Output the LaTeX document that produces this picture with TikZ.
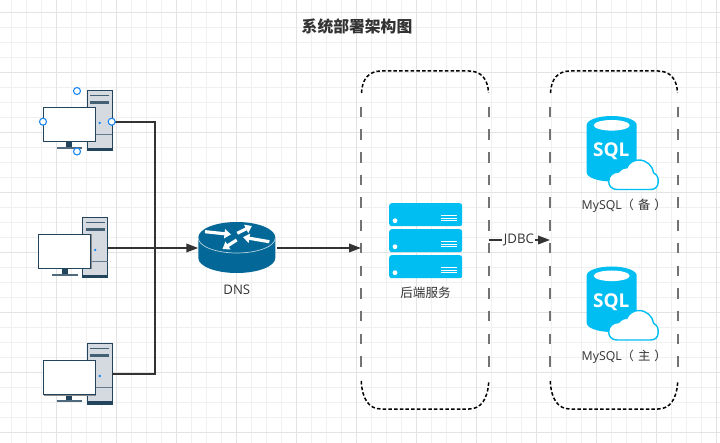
\documentclass[tikz,border=0pt]{standalone}
\usepackage{fontspec}
\setmainfont{Open Sans}
\newfontfamily\cjk{Noto Sans CJK SC}
\usetikzlibrary{arrows.meta,calc}
\definecolor{gridminor}{HTML}{F0F0F0}
\definecolor{gridmajor}{HTML}{E3E3E3}
\definecolor{ink}{HTML}{333333}
\definecolor{azure}{HTML}{00BEF2}
\definecolor{navy}{HTML}{23445D}
\definecolor{steel}{HTML}{D5DAE0}
\definecolor{routerblue}{HTML}{036897}
\definecolor{handle}{HTML}{1A86F0}
\tikzset{
  x=1pt,y=-1pt,
  conn/.style={draw=ink,line width=1.9pt,line join=miter},
  arrowed/.style={conn,-{Triangle[length=12pt,width=8.5pt]}},
  lbl/.style={text=ink,font=\fontsize{12.3}{14}\selectfont,inner sep=0pt},
  wide/.style={text=ink,font=\fontsize{13.2}{15}\selectfont,inner sep=0pt},
  box/.style={inner sep=0pt,outer sep=0pt,minimum width=#1},
  handlept/.style={circle,draw=handle,fill=white,line width=1.1pt,minimum size=7pt,inner sep=0pt},
  sideline/.style={draw=black!55,line width=1.4pt,dash pattern=on 10.5pt off 12.2pt,dash phase=14pt},
  capline/.style={draw=black,line width=1.5pt,dash pattern=on 3.5pt off 2.2pt},
}
\newcommand{\pcicon}[4]{%
  \node[box=69.5pt,minimum height=60pt,anchor=west] (#1) at (#2-44.5,#4) {};
  \begin{scope}[shift={(#2,#3)}]
    \fill[steel] (0,0) rectangle (25,60);
    \fill[navy] (0,57.3) rectangle (25,60);
    \draw[navy,line width=1pt] (0,0) rectangle (25,60);
    \fill[navy!85] (3,4) rectangle (22,5.5);
    \fill[navy!85] (3,10.5) rectangle (22,13.3);
    \draw[navy!70,line width=.8pt] (0,43.3) -- (25,43.3);
    \fill[handle] (12.7,32) circle (1.3);
    \fill[navy] (-21,50) rectangle (-15,56);
    \draw[navy!80,line width=1.5pt] (-30.5,57) -- (-5,57);
    \draw[black!45,line width=1.6pt] (-43.5,50.7) -- (8.6,50.7) -- (8.6,16.4);
    \draw[navy,fill=white,line width=.9pt] (-44,16) rectangle (8,50);
  \end{scope}}
\newcommand{\sqlicon}[3]{%
  \begin{scope}[shift={(#2,#3)}]
    \fill[azure] (0,9) arc[x radius=25,y radius=9,start angle=180,end angle=360]
       -- (50,56.5) arc[x radius=25,y radius=9,start angle=0,end angle=180] -- cycle;
    \fill[white] (25,9.3) ellipse[x radius=18,y radius=5.3];
    \node[text=white,inner sep=0pt,font=\fontsize{19}{20}\bfseries\selectfont] (#1) at (24.5,35.5) {SQL};
    \draw[azure,fill=white,line width=1.4pt,line join=round]
      (31,73.5) .. controls (24,73.5) and (22,69) .. (22,65.5)
      .. controls (22,60) and (26,56) .. (32,56)
      .. controls (34,53) and (38,51.5) .. (40,52)
      .. controls (42,47) and (47,44) .. (52,44)
      .. controls (60,44) and (66,50) .. (67,57)
      .. controls (71,59) and (71.5,62) .. (71.5,66)
      .. controls (71.5,71) and (68,73.5) .. (64,73.5) -- cycle;
  \end{scope}}
\begin{document}
\begin{tikzpicture}
\useasboundingbox (0,0) rectangle (720,443);
\fill[white] (0,0) rectangle (720,443);
\foreach \k in {0,...,47} \draw[gridminor,line width=1pt] ({11.5+15*\k},0) -- ({11.5+15*\k},443);
\foreach \k in {0,...,29} \draw[gridminor,line width=1pt] (0,{12.5+15*\k}) -- (720,{12.5+15*\k});
\foreach \k in {0,...,11} \draw[gridmajor,line width=1pt] ({56.5+60*\k},0) -- ({56.5+60*\k},443);
\foreach \k in {0,...,7} \draw[gridmajor,line width=1pt] (0,{12.5+60*\k}) -- (720,{12.5+60*\k});

\node[text=ink,inner sep=0pt,font=\cjk\bfseries\fontsize{15.8}{18}\selectfont] (title) at (357,26) {系统部署架构图};

% computers
\pcicon{pc1}{87}{91}{122}
\pcicon{pc2}{82.5}{218}{248}
\pcicon{pc3}{87}{344}{374}

% router
\node[box=77pt,minimum height=51pt] (router) at (236.8,248) {};
\fill[routerblue] (198.3,237.5) arc[x radius=38.5,y radius=15.5,start angle=180,end angle=360] -- (275.3,258) arc[x radius=38.5,y radius=15,start angle=0,end angle=180] -- cycle;
\draw[white!70!routerblue,line width=.7pt] (198.3,238) arc[x radius=38.5,y radius=15,start angle=180,end angle=0];
\foreach \a/\b/\c/\d in {205/231.7/231/234.4, 237.3/233.3/251.9/226, 236.7/240/222.5/249, 269.3/241.7/243/237.2}
  \draw[white,line width=3.2pt,-{Triangle[length=6.5pt,width=9pt]}] (\a,\b) -- (\c,\d);
\node[wide] (dnslabel) at (236.8,290) {DNS};

% groups
\node[box=128pt,minimum height=338pt,anchor=north west] (g1) at (361,71) {};
\node[box=128pt,minimum height=338pt,anchor=north west] (g2) at (550,71) {};
\foreach \g in {g1,g2}{
  \draw[sideline] ($(\g.north west)+(0,27)$) -- ($(\g.south west)+(0,-34)$);
  \draw[sideline] ($(\g.north east)+(0,27)$) -- ($(\g.south east)+(0,-34)$);
  \draw[capline] ($(\g.north west)+(0.5,22)$) .. controls ($(\g.north west)+(1,8)$) and ($(\g.north west)+(8,0)$) .. ($(\g.north west)+(20,0)$) -- ($(\g.north east)+(-20,0)$) .. controls ($(\g.north east)+(-8,0)$) and ($(\g.north east)+(-1,8)$) .. ($(\g.north east)+(-0.5,22)$);
  \draw[capline] ($(\g.south west)+(0.3,-28)$) .. controls ($(\g.south west)+(1,-10)$) and ($(\g.south west)+(8,0)$) .. ($(\g.south west)+(20,0)$) -- ($(\g.south east)+(-20,0)$) .. controls ($(\g.south east)+(-8,0)$) and ($(\g.south east)+(-1,-10)$) .. ($(\g.south east)+(-0.3,-28)$);
}

% server rack
\foreach \n/\y in {s1/203,s2/229,s3/255}{
  \node[fill=azure,rounded corners=2.5pt,inner sep=0pt,minimum width=73pt,minimum height=23pt,anchor=north west] (\n) at (389,\y) {};
  \fill[white] ($(\n.south west)+(6,-5.7)$) circle (2.4);
  \foreach \dy in {-10.5,-8,-5.5}
    \draw[white,line width=.9pt] ($(\n.south east)+(-21,\dy)$) -- ($(\n.south east)+(-5,\dy)$);
}
\node[lbl,font=\cjk\fontsize{12.6}{14}\selectfont] (rack) at (425.5,293) {后端服务};

% databases
\sqlicon{db1}{586.7}{116}
\sqlicon{db2}{586.7}{266.5}
\node[lbl,anchor=west] (db1l) at (581.5,206) {MySQL{\cjk（\hspace{4pt}备\hspace{4pt}）}};
\node[lbl,anchor=west] (db2l) at (581.5,357) {MySQL{\cjk（\hspace{4pt}主\hspace{4pt}）}};

% connectors
\draw[conn] (pc1.east) -| (154.6,248);
\draw[conn] (pc3.east) -| (154.6,248);
\draw[arrowed] (pc2.east) -- (router.west);
\draw[arrowed,shorten <=2pt] (router.east) -- (g1.west |- router.east);
\draw[arrowed] (g1.east) -- node[wide,fill=white,inner xsep=1.5pt,inner ysep=1pt,pos=.49] (jdbc) {JDBC} (g2.west);

% selection handles
\node[handlept] (h1) at (77,91) {};
\node[handlept] (h2) at (43,121.7) {};
\node[handlept] (h3) at (111.7,121.7) {};
\node[handlept] (h4) at (77,151.5) {};
\end{tikzpicture}
\end{document}
